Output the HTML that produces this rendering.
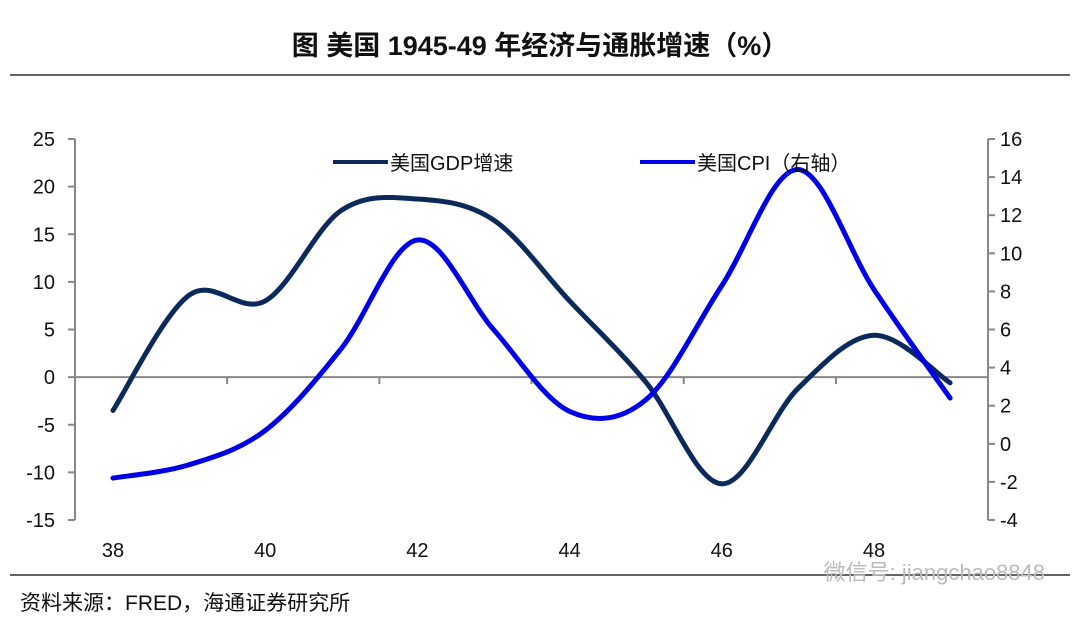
<!DOCTYPE html>
<html><head><meta charset="utf-8"><style>
body{margin:0;background:#fff;width:1080px;height:624px;overflow:hidden}
svg{display:block;font-family:"Liberation Sans","Noto Sans CJK SC",sans-serif}
</style></head><body>
<svg id="chart" width="1080" height="624">
<text x="540" y="55" text-anchor="middle" font-size="27" font-weight="bold" fill="#111">图  美国 1945-49 年经济与通胀增速（%）</text>
<line x1="10" y1="75" x2="1070" y2="75" stroke="#333" stroke-width="1.5"/>
<line x1="10" y1="575" x2="1070" y2="575" stroke="#333" stroke-width="1.5"/>
<text x="20" y="610" font-size="21" fill="#111">资料来源：FRED，海通证券研究所</text>
<text x="1045" y="580" text-anchor="end" font-size="22" fill="#bbb">微信号: jiangchao8848</text>
<g id="axes"></g>
<g id="series"></g>
<g>
<line x1="333" y1="162" x2="388" y2="162" stroke="#0b2a5a" stroke-width="4"/>
<text x="390" y="170" font-size="20" fill="#111">美国GDP增速</text>
<line x1="640" y1="162" x2="695" y2="162" stroke="#0000e6" stroke-width="4"/>
<text x="697" y="170" font-size="20" fill="#111">美国CPI（右轴）</text>
</g>
</svg>
<script>
const years=[38,39,40,41,42,43,44,45,46,47,48,49];
const gdp=[-3.5,8.6,8.0,17.5,18.7,16.5,8.0,-0.5,-11.2,-1.2,4.4,-0.6];
const cpi=[-1.8,-1.1,0.7,5.0,10.7,6.0,1.7,2.3,8.3,14.4,8.1,2.4];
const leftTicks=[-15,-10,-5,0,5,10,15,20,25];
const rightTicks=[-4,-2,0,2,4,6,8,10,12,14,16];
const xLabels=[38,40,42,44,46,48];
const NS="http://www.w3.org/2000/svg";
const yTop=139,yBot=520,xL=75,xR=988;
const sx=v=>113+(v-38)*76.1;
const yL=v=>yBot-(v+15)/40*(yBot-yTop);
const yR=v=>yBot-(v+4)/20*(yBot-yTop);
function mk(p,t,a){const e=document.createElementNS(NS,t);for(const k in a)e.setAttribute(k,a[k]);p.appendChild(e);return e;}
const ax=document.getElementById('axes');
let e=mk(ax,'line',{x1:xL,y1:yTop,x2:xL,y2:yBot,stroke:'#888','stroke-width':2});


e=mk(ax,'line',{x1:xR,y1:yTop,x2:xR,y2:yBot,stroke:'#888','stroke-width':2});


e=mk(ax,'line',{x1:xL,y1:yL(0),x2:xR,y2:yL(0),stroke:'#888','stroke-width':2});


leftTicks.forEach(v=>{mk(ax,'line',{x1:xL-7,y1:yL(v),x2:xL,y2:yL(v),stroke:'#888','stroke-width':2});
 e=mk(ax,'text',{x:xL-20,y:yL(v)+7,'text-anchor':'end','font-size':20,fill:'#111'});e.textContent=v;
 
 });
rightTicks.forEach(v=>{mk(ax,'line',{x1:xR,y1:yR(v),x2:xR+7,y2:yR(v),stroke:'#888','stroke-width':2});
 e=mk(ax,'text',{x:xR+12,y:yR(v)+7,'font-size':20,fill:'#111'});e.textContent=v;
 
 });
for(let k=39.5;k<49;k+=2)mk(ax,'line',{x1:sx(k),y1:yL(0),x2:sx(k),y2:yL(0)+7,stroke:'#888','stroke-width':2});
xLabels.forEach(v=>{e=mk(ax,'text',{x:sx(v),y:557,'text-anchor':'middle','font-size':20,fill:'#111'});e.textContent=v;
 
 });
function path(pts){let d=`M${pts[0][0]},${pts[0][1]}`;for(let i=0;i<pts.length-1;i++){const p0=pts[Math.max(i-1,0)],p1=pts[i],p2=pts[i+1],p3=pts[Math.min(i+2,pts.length-1)];
 d+=` C${p1[0]+(p2[0]-p0[0])/6},${p1[1]+(p2[1]-p0[1])/6} ${p2[0]-(p3[0]-p1[0])/6},${p2[1]-(p3[1]-p1[1])/6} ${p2[0]},${p2[1]}`;}return d;}
const sg=document.getElementById('series');
e=mk(sg,'path',{d:path(years.map((y,i)=>[sx(y),yL(gdp[i])])),fill:'none',stroke:'#0b2a5a','stroke-width':5,'stroke-linecap':'round'});


e=mk(sg,'path',{d:path(years.map((y,i)=>[sx(y),yR(cpi[i])])),fill:'none',stroke:'#0000e6','stroke-width':5,'stroke-linecap':'round'});


</script>
</body></html>
